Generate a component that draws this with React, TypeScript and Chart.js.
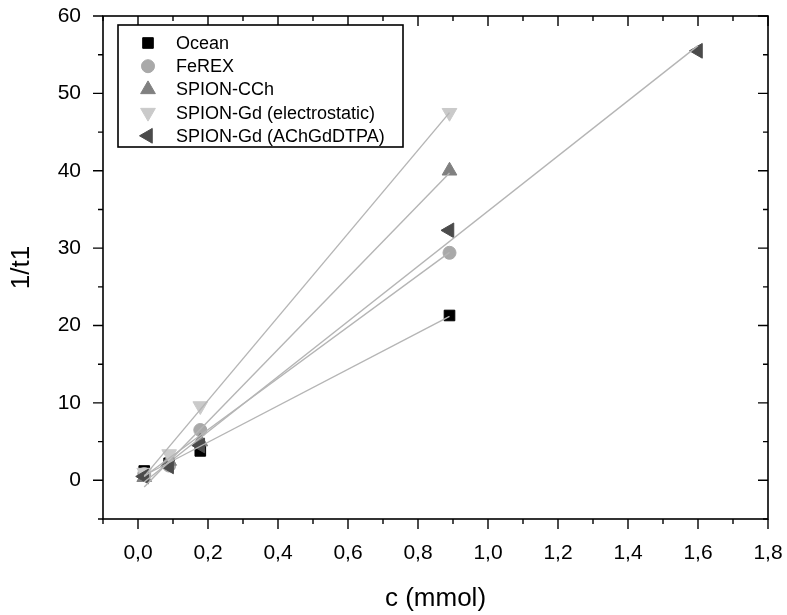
import React, { useEffect, useRef } from 'react';
import { Chart, registerables } from 'chart.js';
import { drawPoint } from 'chart.js/helpers';

Chart.register(...registerables);

// ---------- data ----------
const seriesNames = [
  'Ocean',
  'FeREX',
  'SPION-CCh',
  'SPION-Gd (electrostatic)',
  'SPION-Gd (AChGdDTPA)',
];
const concentrations = [0.0178, 0.089, 0.178, 0.89];
const concentrationsAChGd = [0.0178, 0.089, 0.178, 0.89, 1.6];
const oceanValues = [1.2, 2.2, 3.8, 21.3];
const ferexValues = [0.8, 1.9, 6.5, 29.4];
const spionCChValues = [0.4, 2.5, 5.0, 40.0];
const spionGdElectroValues = [1.0, 3.4, 9.6, 47.5];
const spionGdAChValues = [0.5, 1.8, 4.5, 32.3, 55.5];

const xMajorTicks = [0, 0.2, 0.4, 0.6, 0.8, 1.0, 1.2, 1.4, 1.6, 1.8];
const xTickLabels = ['0,0', '0,2', '0,4', '0,6', '0,8', '1,0', '1,2', '1,4', '1,6', '1,8'];
const xMinorTicks = [-0.1, 0.1, 0.3, 0.5, 0.7, 0.9, 1.1, 1.3, 1.5, 1.7];
const yMajorTicks = [0, 10, 20, 30, 40, 50, 60];
const yTickLabels = ['0', '10', '20', '30', '40', '50', '60'];
const yMinorTicks = [-5, 5, 15, 25, 35, 45, 55];

const xTitle = 'c (mmol)';
const yTitle = '1/t1';

// ---------- styles ----------
const markerStyles = [
  { pointStyle: 'rect', color: '#000000', radius: 7.5, rotation: 0 },
  { pointStyle: 'circle', color: '#a9a9a9', radius: 6.5, rotation: 0 },
  { pointStyle: 'triangle', color: '#808080', radius: 8.5, rotation: 0 },
  { pointStyle: 'triangle', color: '#cacaca', radius: 8.5, rotation: 180 },
  { pointStyle: 'triangle', color: '#4b4b4b', radius: 8.5, rotation: -90 },
];
const FONT = '"Liberation Sans", Arial, Helvetica, sans-serif';

function linearFit(xs: number[], ys: number[]) {
  const n = xs.length;
  const mx = xs.reduce((a, b) => a + b, 0) / n;
  const my = ys.reduce((a, b) => a + b, 0) / n;
  let sxy = 0;
  let sxx = 0;
  for (let i = 0; i < n; i++) {
    sxy += (xs[i] - mx) * (ys[i] - my);
    sxx += (xs[i] - mx) * (xs[i] - mx);
  }
  const slope = sxy / sxx;
  return { slope, intercept: my - slope * mx };
}

const seriesX = [concentrations, concentrations, concentrations, concentrations, concentrationsAChGd];
const seriesY = [oceanValues, ferexValues, spionCChValues, spionGdElectroValues, spionGdAChValues];

const framePlugin = {
  id: 'originFrame',
  afterDraw(chart: any) {
    const { ctx, chartArea } = chart;
    const xs = chart.scales.x;
    const ys = chart.scales.y;
    const { left, right, top, bottom } = chartArea;
    ctx.save();
    ctx.strokeStyle = '#000';
    ctx.lineWidth = 1.6;
    ctx.strokeRect(left, top, right - left, bottom - top);

    const major = 10;
    const minor = 5;
    ctx.lineWidth = 1.4;
    ctx.beginPath();
    const xt = (v: number, len: number) => {
      const p = xs.getPixelForValue(v);
      ctx.moveTo(p, bottom);
      ctx.lineTo(p, bottom + len);
      ctx.moveTo(p, top);
      ctx.lineTo(p, top + len);
    };
    const yt = (v: number, len: number) => {
      const p = ys.getPixelForValue(v);
      ctx.moveTo(left, p);
      ctx.lineTo(left - len, p);
      ctx.moveTo(right, p);
      ctx.lineTo(right - len, p);
    };
    xMajorTicks.forEach((v) => xt(v, major));
    xMinorTicks.forEach((v) => xt(v, minor));
    yMajorTicks.forEach((v) => yt(v, major));
    yMinorTicks.forEach((v) => yt(v, minor));
    ctx.stroke();

    ctx.fillStyle = '#000';
    ctx.font = `21px ${FONT}`;
    ctx.textAlign = 'center';
    ctx.textBaseline = 'middle';
    xMajorTicks.forEach((v, i) => {
      ctx.fillText(xTickLabels[i], xs.getPixelForValue(v), bottom + 34);
    });
    ctx.textAlign = 'right';
    yMajorTicks.forEach((v, i) => {
      ctx.fillText(yTickLabels[i], left - 22, ys.getPixelForValue(v));
    });

    ctx.font = `26px ${FONT}`;
    ctx.textAlign = 'center';
    ctx.fillText(xTitle, (left + right) / 2, bottom + 80);
    ctx.save();
    ctx.translate(22, (top + bottom) / 2);
    ctx.rotate(-Math.PI / 2);
    ctx.fillText(yTitle, 0, 0);
    ctx.restore();

    // legend
    const lx = left + 15;
    const ly = top + 9;
    const lw = 285;
    const rowH = 23.2;
    const lh = 122;
    ctx.fillStyle = '#fff';
    ctx.fillRect(lx, ly, lw, lh);
    ctx.lineWidth = 1.6;
    ctx.strokeStyle = '#000';
    ctx.strokeRect(lx, ly, lw, lh);
    ctx.font = `18px ${FONT}`;
    ctx.textAlign = 'left';
    ctx.textBaseline = 'middle';
    seriesNames.forEach((name, i) => {
      const cy = ly + 18 + i * rowH;
      const m = markerStyles[i];
      ctx.fillStyle = m.color;
      ctx.strokeStyle = m.color;
      ctx.lineWidth = 1;
      drawPoint(ctx, { pointStyle: m.pointStyle, rotation: m.rotation, radius: m.radius, borderWidth: 1 } as any, lx + 30, cy);
      ctx.fillStyle = '#000';
      ctx.fillText(name, lx + 58, cy + 1);
    });
    ctx.restore();
  },
};

export default function App() {
  const ref = useRef<HTMLCanvasElement | null>(null);
  useEffect(() => {
    document.body.style.margin = '0';
    const canvas = ref.current;
    if (!canvas) return;

    const fitSets = seriesX.map((xsArr, i) => {
      const { slope, intercept } = linearFit(xsArr, seriesY[i]);
      const x0 = Math.min(...xsArr);
      const x1 = Math.max(...xsArr);
      return {
        label: seriesNames[i] + ' fit',
        data: [
          { x: x0, y: intercept + slope * x0 },
          { x: x1, y: intercept + slope * x1 },
        ],
        showLine: true,
        borderColor: '#b5b5b5',
        borderWidth: 1.4,
        pointRadius: 0,
        order: 0,
      };
    });

    const pointSets = seriesNames.map((name, i) => ({
      label: name,
      data: seriesX[i].map((x, j) => ({ x, y: seriesY[i][j] })),
      showLine: false,
      pointStyle: markerStyles[i].pointStyle,
      rotation: markerStyles[i].rotation,
      pointRadius: markerStyles[i].radius,
      backgroundColor: markerStyles[i].color,
      borderColor: markerStyles[i].color,
      borderWidth: 1,
      order: 10 - i,
    }));

    const chart = new Chart(canvas, {
      type: 'scatter',
      data: { datasets: [...pointSets, ...fitSets] as any },
      options: {
        animation: false,
        responsive: false,
        maintainAspectRatio: false,
        layout: { padding: { left: 103, right: 19, top: 16, bottom: 96 } },
        plugins: { legend: { display: false }, tooltip: { enabled: false } },
        scales: {
          x: { type: 'linear', min: -0.1, max: 1.8, display: false },
          y: { type: 'linear', min: -5, max: 60, display: false },
        },
      },
      plugins: [framePlugin],
    });
    return () => chart.destroy();
  }, []);

  return (
    <div style={{ width: 787, height: 615, background: '#fff' }}>
      <canvas ref={ref} width={787} height={615} style={{ display: 'block' }} />
    </div>
  );
}
